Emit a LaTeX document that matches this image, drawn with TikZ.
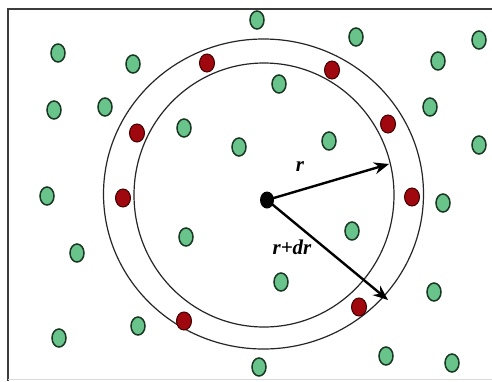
\documentclass[tikz,border=0pt]{standalone}
\usepackage{fontspec}
\setmainfont{Liberation Serif}
\usetikzlibrary{arrows.meta,shapes.geometric}
\definecolor{gfill}{RGB}{104,196,138}
\definecolor{gline}{RGB}{25,55,35}
\definecolor{rfill}{RGB}{158,8,14}
\definecolor{rline}{RGB}{70,0,0}
\definecolor{frame}{RGB}{60,60,60}
\tikzset{
  gdot/.style={ellipse,draw=gline,fill=gfill,line width=1.5pt,minimum width=14pt,minimum height=18pt,inner sep=0pt},
  rdot/.style={ellipse,draw=rline,fill=rfill,line width=1pt,minimum width=15pt,minimum height=18pt,inner sep=0pt},
  ring/.style={draw=black!85,line width=1.2pt},
  radius arrow/.style={line width=2.4pt,-{Stealth[length=15pt,width=12pt,inset=5pt]}},
  lbl/.style={font=\fontsize{21}{21}\selectfont\bfseries\itshape,inner sep=0pt}
}
\begin{document}
\begin{tikzpicture}[x=1pt,y=-1pt]
\useasboundingbox (0,0) rectangle (492,381);
\fill[white] (0,0) rectangle (492,381);
% frame
\draw[frame,line width=1.6pt] (492,9) -- (8,9) -- (8,381);
\draw[black!15,line width=1pt] (8,379.5) -- (492,379.5);
% rings
\draw[ring] (263.5,194) ellipse [x radius=160, y radius=155];
\draw[ring] (264,195) ellipse [x radius=130, y radius=132];
% green dots
\foreach \n/\x/\y in {g1/257/20, g2/58/53, g3/133/64, g4/356/37, g5/438/61, g6/479/40,
  g7/54/110, g8/105/107, g9/279/84, g10/184/128, g11/239/147, g12/329/141,
  g13/430/107, g14/479/145, g15/47/196, g16/443/203, g17/186/237, g18/352/231,
  g19/77/253, g20/281/282, g21/434/292, g22/59/338, g23/138/326, g24/386/356,
  g25/452/363, g26/259/367}
  \node[gdot] (\n) at (\x,\y) {};
% red dots
\foreach \n/\x/\y in {r1/207/63, r2/332/70, r3/137/133, r4/388/124,
  r5/123/198, r6/412/197, r7/184/321, r8/359/307}
  \node[rdot] (\n) at (\x,\y) {};
% centre
\node[ellipse,fill=black,minimum width=14pt,minimum height=17pt,inner sep=0pt] (c) at (267,200) {};
\coordinate (tipr) at (389,164);
\coordinate (tipdr) at (388,300);
\draw[radius arrow] (c.center) -- (tipr);
\draw[radius arrow] (c.center) -- (tipdr);
\node[lbl] (lr) at (300,167) {r};
\node[lbl] (ldr) at (292,247) {r+dr};
\end{tikzpicture}
\end{document}
